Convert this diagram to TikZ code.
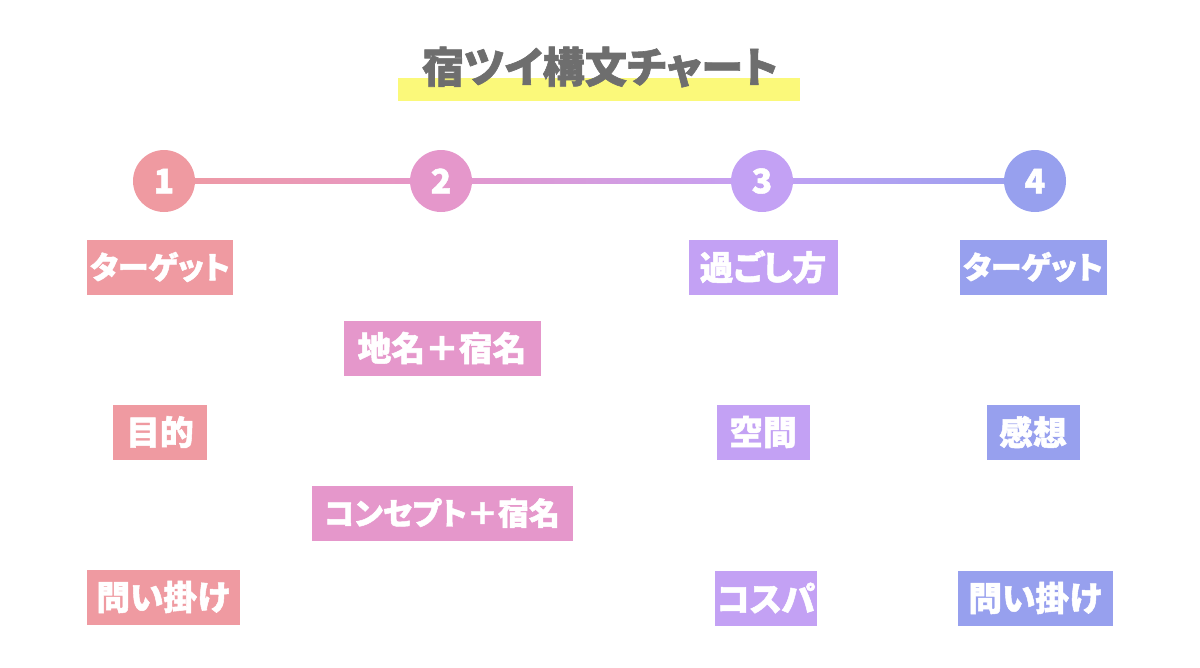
\documentclass[tikz,border=0pt]{standalone}
\usepackage{fontspec}
\usepackage{xcolor}
\usetikzlibrary{calc, backgrounds}
\newfontfamily\cjk{Noto Sans CJK JP}[BoldFont={Noto Sans CJK JP Black}, BoldFeatures={FakeBold=1.5}, RawFeature={+palt}]
\definecolor{StepPink}{HTML}{EF9AA1}
\definecolor{StepOrchid}{HTML}{E597CB}
\definecolor{StepLilac}{HTML}{C3A1F4}
\definecolor{StepBlue}{HTML}{97A0EE}
\definecolor{TitleGrey}{HTML}{6E6E6E}
\definecolor{MarkerYellow}{HTML}{FBF97A}

\tikzset{
  stepdot/.style={circle, minimum size=62*0.025cm, inner sep=0pt, text=white,
    font=\cjk\bfseries\fontsize{24}{24}\selectfont},
  tag/.style={rectangle, minimum height=55*0.025cm, inner sep=0pt, text=white,
    font=\cjk\bfseries\fontsize{24}{24}\selectfont},
  narrowtag/.style={tag, font=\cjk\bfseries\fontsize{22}{22}\selectfont}
}

\begin{document}
\begin{tikzpicture}[x=0.025cm, y=-0.025cm]
    \useasboundingbox (0,0) rectangle (1200,667);

    % Title with marker underline
    \fill[MarkerYellow] (398,78) rectangle (800,101);
    \node[font=\cjk\bfseries\fontsize{30}{30}\selectfont, text=TitleGrey] (title) at (600,67) {宿ツイ構文チャート};

    % Step circles
    \node[stepdot, fill=StepPink] (n1) at (164,181) {1};
    \node[stepdot, fill=StepOrchid] (n2) at (441,181) {2};
    \node[stepdot, fill=StepLilac] (n3) at (762,181) {3};
    \node[stepdot, fill=StepBlue] (n4) at (1035,181) {4};

    % Connecting line behind the circles
    \begin{pgfonlayer}{background}
        \shade[left color=StepPink, right color=StepOrchid] ($(n1.center)+(0,-2.5)$) rectangle ($(n2.center)+(0,2.5)$);
        \shade[left color=StepOrchid, right color=StepLilac] ($(n2.center)+(0,-2.5)$) rectangle ($(n3.center)+(0,2.5)$);
        \shade[left color=StepLilac, right color=StepBlue] ($(n3.center)+(0,-2.5)$) rectangle ($(n4.center)+(0,2.5)$);
    \end{pgfonlayer}

    % Column 1
    \node[narrowtag, fill=StepPink, minimum width=146*0.025cm] (target1) at (160,267) {ターゲット};
    \node[tag, fill=StepPink, minimum width=94*0.025cm] (purpose) at (160,432) {目的};
    \node[tag, fill=StepPink, minimum width=153*0.025cm] (question1) at (163,597) {問い掛け};

    % Column 2
    \node[tag, fill=StepOrchid, minimum width=197*0.025cm] (place) at (442,348) {地名＋宿名};
    \node[narrowtag, fill=StepOrchid, minimum width=261*0.025cm] (concept) at (442,513) {コンセプト＋宿名};

    % Column 3
    \node[tag, fill=StepLilac, minimum width=149*0.025cm] (stay) at (763,267) {過ごし方};
    \node[tag, fill=StepLilac, minimum width=93*0.025cm] (space) at (763,432) {空間};
    \node[tag, fill=StepLilac, minimum width=102*0.025cm] (cospa) at (766,598) {コスパ};

    % Column 4
    \node[narrowtag, fill=StepBlue, minimum width=147*0.025cm] (target4) at (1033,267) {ターゲット};
    \node[tag, fill=StepBlue, minimum width=93*0.025cm] (impression) at (1033,432) {感想};
    \node[tag, fill=StepBlue, minimum width=155*0.025cm] (question4) at (1035,598) {問い掛け};

\end{tikzpicture}
\end{document}
